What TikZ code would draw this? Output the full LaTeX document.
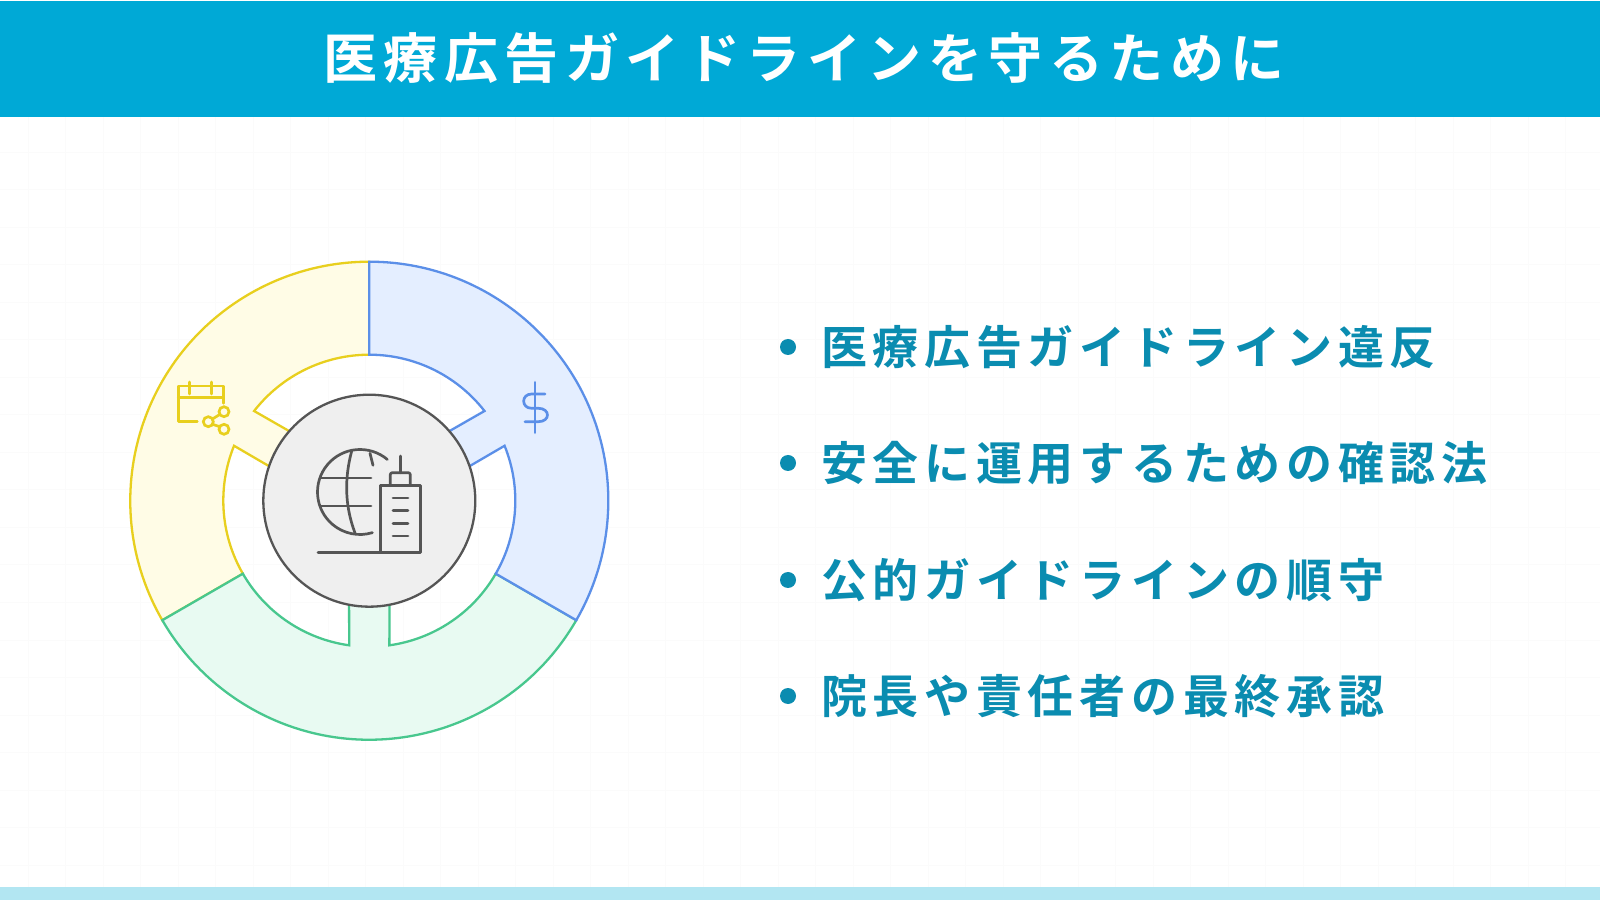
\documentclass[tikz,border=0pt]{standalone}
\usepackage{fontspec}
\usepackage{xcolor}
\newfontfamily\jpfont[BoldFont=* Bold]{Noto Sans CJK JP}
\definecolor{headblue}{HTML}{00A9D6}
\definecolor{footblue}{HTML}{B2E6F2}
\definecolor{itemblue}{HTML}{0A8CB0}
\definecolor{blueline}{HTML}{5B8FE8}
\definecolor{bluefill}{HTML}{E4EEFF}
\definecolor{greenline}{HTML}{48C78E}
\definecolor{greenfill}{HTML}{E8FAF2}
\definecolor{yellowline}{HTML}{E8CF1E}
\definecolor{yellowfill}{HTML}{FFFCE6}
\definecolor{hubline}{HTML}{555555}
\definecolor{hubfill}{HTML}{EFEFEF}

\begin{document}
\begin{tikzpicture}[
		x=1pt,
		y=1pt,
		%Global config
		line width=2.3pt,
		%Styles
		Title/.style={
			text=white,
			font=\jpfont\bfseries\fontsize{54}{64}\selectfont\addfontfeatures{LetterSpace=12},
		},
		Item/.style={
			anchor=west,
			inner sep=0pt,
			text=itemblue,
			font=\jpfont\bfseries\fontsize{46}{54}\selectfont\addfontfeatures{LetterSpace=12.4},
		},
		Dot/.style={
			circle,
			fill=itemblue,
			inner sep=0pt,
			minimum size=16pt,
		},
		Icon/.style={
			line width=2.7pt,
			line cap=round,
			line join=round,
		},
	]
	\useasboundingbox (0,0) rectangle (1600,900);
	\fill[white] (0,0) rectangle (1600,900);
	
	%Faint grid
	\foreach \X in {0,...,42}{
		\draw[black!1.5, line width=1pt] (28+37.5*\X,13) -- (28+37.5*\X,783);
	}
	\foreach \Y in {0,...,20}{
		\draw[black!1.5, line width=1pt] (0,35+37.5*\Y) -- (1600,35+37.5*\Y);
	}
	
	%Bands
	\fill[headblue] (0,783) rectangle (1600,899);
	\fill[footblue] (0,0) rectangle (1600,13);
	\node[Title] (title) at (804,842) {医療広告ガイドラインを守るために};
	
	%Ring
	\begin{scope}[shift={(369.3,399.3)}]
		\foreach \Line/\Fill/\Rot in {yellowline/yellowfill/120, greenline/greenfill/-120, blueline/bluefill/0}{
			\draw[draw=\Line, fill=\Fill, rotate=\Rot] (90:239) arc[start angle=90, end angle=-30, radius=239] -- (-30:146) arc[start angle=-30, end angle=22.1, radius=146] -- (19:106) -- (41:106) -- (37.9:146) arc[start angle=37.9, end angle=90, radius=146] -- cycle;
		}
		\node[circle, draw=hubline, fill=hubfill, minimum size=212pt, inner sep=0pt] (hub) at (0,0) {};
	\end{scope}
	
	%Icons, written from the top edge down
	\begin{scope}[shift={(0,900)}, yscale=-1]
		% globe and tower
		\draw[Icon, hubline] (360,492) ++(-50:42.5) arc[start angle=-50, end angle=-287, radius=42.5];
		\draw[Icon, hubline] (321,478) -- (371,478) (321,506) -- (371,506);
		\draw[Icon, hubline] (351.7,451) .. controls (344.5,478) and (344.5,505) .. (355,533);
		\draw[Icon, hubline] (370,453.3) -- (373,465.3);
		\draw[Icon, hubline] (318,552.3) -- (420.7,552.3) -- (420.7,485.7) -- (380.3,485.7) -- (380.3,552.3);
		\draw[Icon, hubline, rounded corners=2pt] (390.3,485.7) -- (390.3,472.7) -- (410.3,472.7) -- (410.3,485.7);
		\draw[Icon, hubline] (400.3,456) -- (400.3,472.7);
		\foreach \Y in {498,510.7,523.3,536}{
			\draw[Icon, hubline] (393,\Y) -- (408,\Y);
		}
		% calendar
		\draw[Icon, yellowline] (197.3,421.7) -- (178.3,421.7) -- (178.3,386) -- (223.3,386) -- (223.3,403.3) (178.3,397.3) -- (223.3,397.3) (189.3,382) -- (189.3,394) (211.7,382) -- (211.7,394);
		\draw[yellowline, line width=2.7pt] (208.3,421.7) circle[radius=5] (224,411.7) circle[radius=5] (224,429.3) circle[radius=5] (212.5,419) -- (219.8,414.4) (212.5,424.3) -- (219.8,426.7);
		% dollar
		\draw[Icon, blueline] (535,382.3) -- (535,432.7);
		\draw[Icon, blueline] (545,394) -- (531.7,394) .. controls (521,394) and (521,408.3) .. (531.7,408.3) -- (538.3,408.3) .. controls (550.5,408.3) and (550.5,421.7) .. (538.3,421.7) -- (525,421.7);
	\end{scope}
	
	%List
	\node[Dot] (dotA) at (788,553) {};
	\node[Dot] (dotB) at (788,437) {};
	\node[Dot] (dotC) at (788,320) {};
	\node[Dot] (dotD) at (788,204) {};
	\node[Item] (itemA) at (820,553) {医療広告ガイドライン違反};
	\node[Item] (itemB) at (820,437) {安全に運用するための確認法};
	\node[Item] (itemC) at (820,320) {公的ガイドラインの順守};
	\node[Item] (itemD) at (820,204) {院長や責任者の最終承認};
\end{tikzpicture}
\end{document}
